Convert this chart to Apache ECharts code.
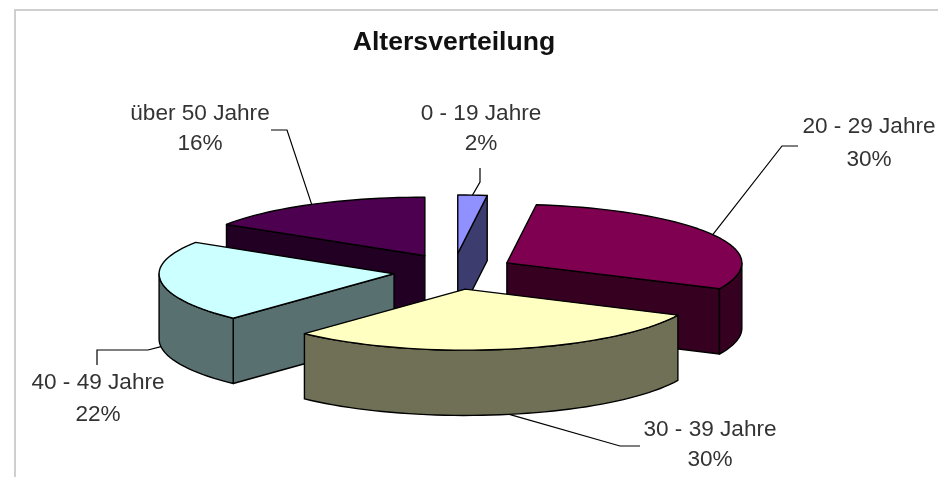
<!DOCTYPE html>
<html>
<head>
<meta charset="utf-8">
<title>Altersverteilung</title>
<style>
  html, body { margin: 0; padding: 0; background: #fff; }
  #chart { width: 938px; height: 477px; filter: blur(0.4px); }
</style>
<script src="https://cdn.jsdelivr.net/npm/echarts@6/dist/echarts.min.js"></script>
</head>
<body>
<div id="chart"></div>
<script>
// data
var categories = ['0 - 19 Jahre', '20 - 29 Jahre', '30 - 39 Jahre', '40 - 49 Jahre', 'über 50 Jahre'];
var shares = [2, 30, 30, 22, 16];

// colours per slice
var topColors = ['#9090ff', '#7f0050', '#ffffc2', '#ccffff', '#4d004f'];
var sideColors = ['#3c3c6e', '#360020', '#6f7055', '#597070', '#220024'];

// where each label sits: text centre, two baselines, then the bends of its leader line (pixels)
var labelX = [481, 869, 710, 98, 200];
var labelY1 = [114, 127, 430, 383, 114];
var labelY2 = [144, 160, 460, 415, 144];
var leaderBends = [
  [[480, 182], [480, 168]],
  [[782, 146], [798, 146]],
  [[620, 446], [640, 446]],
  [[148, 350], [97, 350], [97, 365]],
  [[287, 130], [271, 130]]
];

// pie geometry, in plot units: 1 unit = radius on each axis
var explodeX = 0.257;
var explodeY = 0.295;
var depth = 1.07;
var backSquash = 0.96; // far half of the pie looks a little flatter

var total = shares.reduce(function (a, b) { return a + b; }, 0);
var angles = [];
var acc = 0;
shares.forEach(function (v) {
  var start = acc / total * 2 * Math.PI;
  acc += v;
  angles.push({ start: start, end: acc / total * 2 * Math.PI, mid: (start + acc / total * 2 * Math.PI) / 2 });
});

// back slices are painted first
var drawOrder = shares.map(function (v, i) { return i; }).sort(function (a, b) {
  return Math.cos(angles[b].mid) - Math.cos(angles[a].mid);
});

function planePoint(i, theta, r) {
  var m = angles[i].mid;
  var c = Math.cos(theta) * r;
  return [
    explodeX * Math.sin(m) + Math.sin(theta) * r,
    explodeY * Math.cos(m) + (c > 0 ? c * backSquash : c)
  ];
}

function arcPoints(i, from, to, drop, api) {
  var pts = [];
  var steps = Math.max(2, Math.ceil((to - from) / 0.04));
  for (var k = 0; k <= steps; k++) {
    var p = planePoint(i, from + (to - from) * k / steps, 1);
    pts.push(api.coord([p[0], p[1] - drop]));
  }
  return pts;
}

function face(points, fill) {
  return {
    type: 'polygon',
    shape: { points: points },
    style: { fill: fill, stroke: '#000', lineWidth: 1.4, lineJoin: 'round' }
  };
}

function radialWall(i, theta, api) {
  var a = planePoint(i, theta, 0);
  var b = planePoint(i, theta, 1);
  return face([
    api.coord(a), api.coord(b),
    api.coord([b[0], b[1] - depth]), api.coord([a[0], a[1] - depth])
  ], sideColors[i]);
}

function labelText(text, x, y) {
  return {
    type: 'text',
    style: {
      text: text, x: x, y: y, align: 'center', verticalAlign: 'middle',
      fill: '#333', font: '22.6px "Liberation Sans", Arial, sans-serif'
    }
  };
}

function renderSlice(params, api) {
  var i = api.value(0);
  var a = angles[i];
  var children = [];

  if (Math.sin(a.start) < -1e-6) children.push(radialWall(i, a.start, api));
  if (Math.sin(a.end) > 1e-6) children.push(radialWall(i, a.end, api));

  // outer wall, only the part turned to the viewer
  var wallFrom = Math.max(a.start, Math.PI / 2);
  var wallTo = Math.min(a.end, Math.PI * 1.5);
  if (wallTo > wallFrom) {
    children.push(face(
      arcPoints(i, wallFrom, wallTo, 0, api).concat(arcPoints(i, wallFrom, wallTo, depth, api).reverse()),
      sideColors[i]
    ));
  }

  children.push(face(
    [api.coord(planePoint(i, a.start, 0))].concat(arcPoints(i, a.start, a.end, 0, api)),
    topColors[i]
  ));

  // leader line starts on the rim at the middle of the slice
  var rim = planePoint(i, a.mid, 1);
  var anchor = api.coord(Math.cos(a.mid) < 0 ? [rim[0], rim[1] - depth] : rim);
  children.push({
    type: 'polyline',
    shape: { points: [anchor].concat(leaderBends[i]) },
    style: { fill: null, stroke: '#000', lineWidth: 1.2 }
  });

  children.push(labelText(categories[i], labelX[i], labelY1[i]));
  children.push(labelText(api.value(1) + '%', labelX[i], labelY2[i]));

  return { type: 'group', children: children };
}

var chart = echarts.init(document.getElementById('chart'));
chart.setOption({
  animation: false,
  backgroundColor: '#fff',
  title: {
    text: 'Altersverteilung',
    left: 449,
    top: 24,
    textAlign: 'center',
    textStyle: { fontFamily: '"Liberation Sans", Arial, sans-serif', fontSize: 26.6, fontWeight: 'bold', color: '#111' }
  },
  grid: { left: 0, right: 0, top: 0, bottom: 0 },
  // one unit is the pie radius: 235px across, 61px up and down
  xAxis: { type: 'value', show: false, min: -1.932, max: 2.06 },
  yAxis: { type: 'value', show: false, min: -3.369, max: 4.451 },
  graphic: [{
    type: 'polyline',
    shape: { points: [[15, 477], [15, 10], [938, 10]] },
    style: { fill: null, stroke: '#cfcfcf', lineWidth: 2 },
    silent: true
  }],
  series: [{
    type: 'custom',
    coordinateSystem: 'cartesian2d',
    renderItem: renderSlice,
    silent: true,
    encode: { x: 0, y: 1 },
    data: drawOrder.map(function (i) { return [i, shares[i]]; })
  }]
});
</script>
</body>
</html>
